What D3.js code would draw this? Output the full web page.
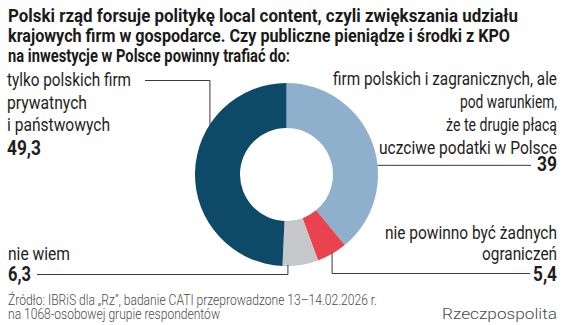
<!DOCTYPE html>
<html><head><meta charset="utf-8">
<script src="https://cdn.jsdelivr.net/npm/d3@7"></script>
<style>
html,body{margin:0;padding:0;background:#fff;}
svg{display:block;}
</style></head>
<body>
<script>
// ---- data ----
const categories = [
  "firm polskich i zagranicznych, ale pod warunkiem, że te drugie płacą uczciwe podatki w Polsce",
  "nie powinno być żadnych ograniczeń",
  "nie wiem",
  "tylko polskich firm prywatnych i państwowych"
];
const values = [39, 5.4, 6.3, 49.3];
const valueLabels = ["39", "5,4", "6,3", "49,3"];
const titleLines = [
  "Polski rząd forsuje politykę local content, czyli zwiększania udziału",
  "krajowych firm w gospodarce. Czy publiczne pieniądze i środki z KPO",
  "na inwestycje w Polsce powinny trafiać do:"
];
const labelLines = [
  ["firm polskich i zagranicznych, ale", "pod warunkiem,", "że te drugie płacą", "uczciwe podatki w Polsce"],
  ["nie powinno być żadnych", "ograniczeń"],
  ["nie wiem"],
  ["tylko polskich firm", "prywatnych", "i państwowych"]
];
const sourceLines = [
  "Źródło: IBRiS dla „Rz”, badanie CATI przeprowadzone 13–14.02.2026 r.",
  "na 1068-osobowej grupie respondentów"
];
const credit = "Rzeczpospolita";

// ---- layout ----
const W = 564, H = 325;
const colors = ["#8eb0cc", "#e8434f", "#c6c7c8", "#0d4a68"];
const cx = 286.5, cy = 174.5, rOut = 91.5, rIn = 46.5;
const font = "Roboto, 'Noto Sans', sans-serif";

const svg = d3.select("body").append("svg").attr("width", W).attr("height", H);
svg.append("rect").attr("width", W).attr("height", H).attr("fill", "#fff");

function txt(s, x, y, opt) {
  const t = svg.append("text").attr("x", x).attr("y", y).text(s)
    .attr("font-family", font)
    .attr("font-size", opt.size)
    .attr("font-weight", opt.weight || 400)
    .attr("fill", opt.fill || "#1e1e1e")
    .attr("text-anchor", opt.anchor || "start");
  if (opt.w) t.attr("textLength", opt.w).attr("lengthAdjust", "spacingAndGlyphs");
  return t;
}

// title
const titleW = [510, 502, 282];
const titleY = [21.5, 41.5, 61.5];
titleLines.forEach((l, i) => txt(l, 8, titleY[i], {size: 18, weight: 700, w: titleW[i], fill: "#1a1a1a"}));

// donut
const pie = d3.pie().sort(null).value(d => d)(values);
const arc = d3.arc().innerRadius(rIn).outerRadius(rOut);
const g = svg.append("g").attr("transform", `translate(${cx},${cy})`);
g.selectAll("path").data(pie).join("path")
  .attr("d", arc).attr("fill", (d, i) => colors[i]);

// leader line anchor points: angle as fraction within each slice
const anchorFrac = [0.6, 0.5, 0.85, 0.68];
function anchorPt(i) {
  const p = pie[i];
  const a = p.startAngle + (p.endAngle - p.startAngle) * anchorFrac[i];
  return [cx + rOut * Math.sin(a), cy - rOut * Math.cos(a)];
}
const lineStyle = l => l.attr("fill", "none").attr("stroke", "#3a3a3a").attr("stroke-width", 1);

{
  const [ax, ay] = anchorPt(0);
  lineStyle(svg.append("path").attr("d", `M${ax},${ay}H531`));
}
{
  const [ax, ay] = anchorPt(1);
  lineStyle(svg.append("path").attr("d", `M${ax},${ay - 1}V273.5H530`));
}
{
  const [ax, ay] = anchorPt(2);
  lineStyle(svg.append("path").attr("d", `M${ax},${ay - 1}V274.5H37`));
}
{
  const [ax, ay] = anchorPt(3);
  lineStyle(svg.append("path").attr("d", `M${ax},${ay + 1}V80.5H145`));
}

// labels
const lblSize = 19;
const rW = [224, 97, 111, 178], rY = [85, 108, 131, 154];
labelLines[0].forEach((l, i) => txt(l, 557, rY[i], {size: lblSize, anchor: "end", w: rW[i]}));
txt(valueLabels[0], 557, 171, {size: 20.5, weight: 700, anchor: "end", w: 20});
const rbW = [172, 75], rbY = [238.5, 260];
labelLines[1].forEach((l, i) => txt(l, 557, rbY[i], {size: lblSize, anchor: "end", w: rbW[i]}));
txt(valueLabels[1], 557, 280.5, {size: 20.5, weight: 700, anchor: "end", w: 24});
txt(labelLines[2][0], 8, 260, {size: lblSize, w: 62});
txt(valueLabels[2], 8, 281, {size: 20.5, weight: 700, w: 23});
const lW = [124, 80, 103], lY = [86, 108.5, 131];
labelLines[3].forEach((l, i) => txt(l, 7, lY[i], {size: lblSize, w: lW[i]}));
txt(valueLabels[3], 7, 155, {size: 20.5, weight: 700, w: 34});

// source
const sW = [369, 212], sY = [304.5, 318.5];
sourceLines.forEach((l, i) => txt(l, 8, sY[i], {size: 14, weight: 300, w: sW[i], fill: "#4a4a4a"}));
txt(credit, 557, 318.5, {size: 14, weight: 300, anchor: "end", w: 115, fill: "#4a4a4a"});
</script>
</body></html>
